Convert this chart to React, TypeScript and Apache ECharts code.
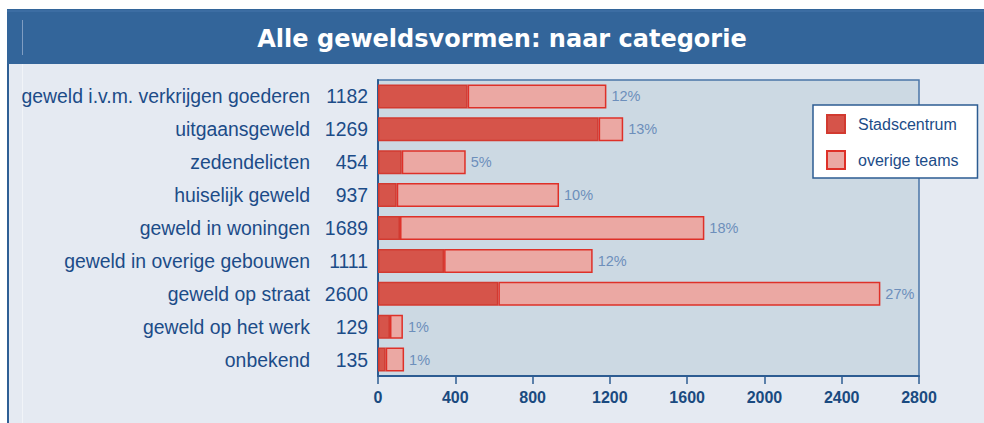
import React, { useEffect, useRef } from "react";
import * as echarts from "echarts";

const categories = [
  "geweld i.v.m. verkrijgen goederen",
  "uitgaansgeweld",
  "zedendelicten",
  "huiselijk geweld",
  "geweld in woningen",
  "geweld in overige gebouwen",
  "geweld op straat",
  "geweld op het werk",
  "onbekend",
];
const totals = [1182, 1269, 454, 937, 1689, 1111, 2600, 129, 135];
const stadscentrum = [464, 1142, 123, 97, 114, 342, 623, 62, 40];
const overigeTeams = [718, 127, 331, 840, 1575, 769, 1977, 67, 95];
const percentLabels = ["12%", "13%", "5%", "10%", "18%", "12%", "27%", "1%", "1%"];
const xTicks = { min: 0, max: 2800, interval: 400 };

const FONT = "'Liberation Sans', Arial, Helvetica, sans-serif";
const BLUE = "#2c5c92";
const TEXT = "#1c4c88";

export default function App() {
  const ref = useRef<HTMLDivElement>(null);
  useEffect(() => {
    if (!ref.current) return;
    const chart = echarts.init(ref.current, undefined, { renderer: "svg" });
    chart.setOption({
      animation: false,
      backgroundColor: "#ffffff",
      textStyle: { fontFamily: FONT },
      title: {
        text: "Alle geweldsvormen: naar categorie",
        left: 497,
        top: 22,
        textAlign: "center",
        textStyle: {
          color: "#ffffff",
          fontFamily: "'DejaVu Sans', Verdana, sans-serif",
          fontWeight: "bold",
          fontSize: 24,
        },
      },
      graphic: [
        { type: "rect", z: -20, shape: { x: 7, y: 9, width: 977, height: 55 }, style: { fill: "#33659a" } },
        { type: "line", z: -19, shape: { x1: 7, y1: 11, x2: 984, y2: 11 }, style: { stroke: "#4677ab", lineWidth: 1 } },
        { type: "line", z: -19, shape: { x1: 22.5, y1: 20, x2: 22.5, y2: 55 }, style: { stroke: "#7f9dc2", lineWidth: 1 } },
        { type: "rect", z: -20, shape: { x: 9, y: 64, width: 975, height: 359 }, style: { fill: "#e5eaf2" } },
        { type: "rect", z: -19, shape: { x: 7, y: 64, width: 2, height: 359 }, style: { fill: "#2e5f95" } },
        { type: "line", z: -19, shape: { x1: 22.5, y1: 64, x2: 22.5, y2: 423 }, style: { stroke: "#f1f4f8", lineWidth: 1 } },
      ],
      legend: {
        orient: "vertical",
        left: 813,
        top: 105,
        backgroundColor: "#ffffff",
        borderColor: BLUE,
        borderWidth: 1.5,
        padding: [9, 19, 8, 13],
        itemWidth: 18,
        itemHeight: 18,
        itemGap: 16,
        icon: "rect",
        textStyle: { color: TEXT, fontSize: 16, fontFamily: FONT, padding: [0, 0, 0, 8] },
        data: ["Stadscentrum", "overige teams"],
      },
      grid: {
        left: 378,
        top: 80,
        right: 65,
        bottom: 47,
        show: true,
        backgroundColor: "#ccd9e3",
        borderColor: "#4a76a8",
        borderWidth: 1.5,
      },
      xAxis: {
        type: "value",
        min: xTicks.min,
        max: xTicks.max,
        interval: xTicks.interval,
        axisLine: { show: true, lineStyle: { color: BLUE, width: 2 } },
        axisTick: { show: true, length: 8, lineStyle: { color: BLUE, width: 1.5 } },
        splitLine: { show: false },
        axisLabel: {
          color: "#1a4a80",
          fontWeight: "bold",
          fontSize: 16,
          margin: 13,
          fontFamily: FONT,
          formatter: (v: number) => String(v),
        },
      },
      yAxis: {
        type: "category",
        inverse: true,
        data: categories,
        axisLine: { show: true, lineStyle: { color: BLUE, width: 2 } },
        axisTick: { show: false },
        axisLabel: {
          margin: 10,
          formatter: (v: string, i: number) => `{n|${v}}{v|${totals[i]}}`,
          rich: {
            n: { color: TEXT, fontSize: 19.4, fontFamily: FONT },
            v: { color: TEXT, fontSize: 19.4, fontFamily: FONT, width: 58, align: "right" },
          },
        },
      },
      series: [
        {
          name: "Stadscentrum",
          type: "bar",
          stack: "total",
          barWidth: 24,
          data: stadscentrum,
          itemStyle: { color: "#d6544a", borderColor: "#d23a30", borderWidth: 1.5 },
        },
        {
          name: "overige teams",
          type: "bar",
          stack: "total",
          barWidth: 24,
          data: overigeTeams,
          itemStyle: { color: "#eba8a3", borderColor: "#de3028", borderWidth: 1.5 },
          label: {
            show: true,
            position: "right",
            distance: 5,
            color: "#6d8fbb",
            fontSize: 14.5,
            fontFamily: FONT,
            formatter: (p: any) => percentLabels[p.dataIndex],
          },
        },
      ],
    });
    return () => chart.dispose();
  }, []);
  return (
    <div
      ref={ref}
      style={{ position: "absolute", left: 0, top: 0, width: 984, height: 423 }}
    />
  );
}
